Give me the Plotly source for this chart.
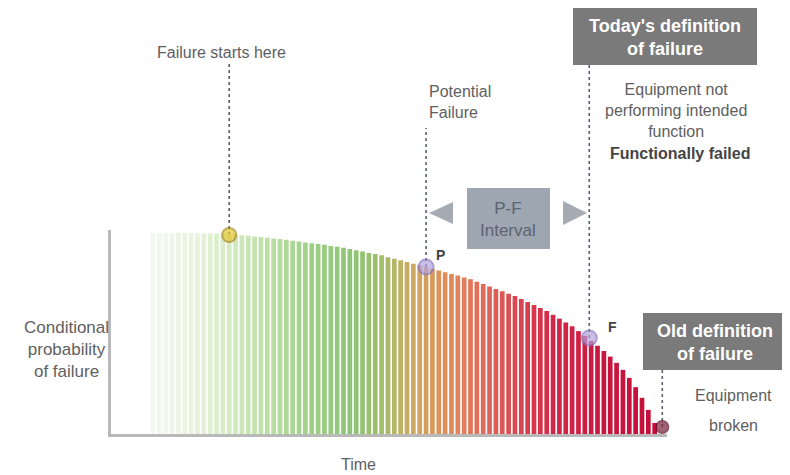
import plotly.graph_objects as go

# ---------------- data ----------------
time_steps = list(range(80))
cond_prob = [
    100.0, 100.0, 100.0, 100.0, 100.0, 100.0, 100.0, 99.9, 99.8, 99.7,
    99.7, 99.6, 99.5, 99.2, 98.9, 98.6, 98.3, 98.0, 97.7, 97.3,
    97.0, 96.6, 96.2, 95.8, 95.3, 94.9, 94.5, 94.1, 93.6, 93.2,
    92.7, 92.0, 91.4, 90.8, 90.1, 89.5, 88.9, 88.0, 87.2, 86.4,
    85.6, 84.7, 83.9, 83.1, 82.2, 81.3, 80.5, 79.6, 78.8, 77.9,
    77.0, 75.8, 74.6, 73.4, 72.2, 71.0, 69.8, 68.6, 67.2, 65.7,
    64.2, 62.7, 61.2, 59.3, 57.4, 55.5, 53.6, 51.2, 48.8, 46.3,
    43.9, 41.3, 38.5, 35.4, 31.9, 27.9, 23.3, 18.0, 12.0, 5.5,
]
event_labels = ["Failure starts here", "P", "F", "Equipment broken"]
event_time = [12.0, 43.0, 68.7, 80.2]
event_prob = [99.0, 83.1, 47.8, 3.5]

# ---------------- layout geometry ----------------
# page body has an 8px margin, so the figure is drawn 8px in from the window edge
OFF = 8
W, H = 790 - OFF, 475 - OFF
PLOT_LEFT, PLOT_TOP, PW, PH = 111, 230, 556, 204      # in window pixels
L = PLOT_LEFT - OFF
T = PLOT_TOP - OFF
R = W - L - PW
B = H - T - PH
X_RANGE = [-6.61, 80.94]
Y_RANGE = [0, 101.5]
FONT = "Liberation Sans, Arial, sans-serif"


def pxx(x):
    return (x - PLOT_LEFT) / PW


def pxy(y):
    return (PLOT_TOP + PH - y) / PH


colorscale = [
    [0.00, "#f4f9f0"], [0.08, "#e8f3df"], [0.16, "#d2eac0"], [0.24, "#b8dda0"],
    [0.32, "#9ccf84"], [0.40, "#8ec476"], [0.46, "#a6bc6a"], [0.50, "#c4b064"],
    [0.55, "#d89c5c"], [0.60, "#e0865a"], [0.66, "#e06a5a"], [0.72, "#da4a52"],
    [0.80, "#d2284a"], [0.90, "#c9163f"], [1.00, "#c2103a"],
]

fig = go.Figure()
fig.add_trace(go.Bar(
    x=time_steps, y=cond_prob,
    marker=dict(color=time_steps, colorscale=colorscale, cmin=0, cmax=79,
                line=dict(width=0)),
    hoverinfo="skip",
))

dot_fill = ["#e4c42a", "#b4a2dc", "#b4a2dc", "#7a2038"]
dot_line = ["#a88c1c", "#8a78c0", "#8a78c0", "#5a1028"]
dot_size = [14, 15, 15, 12]
fig.add_trace(go.Scatter(
    x=event_time, y=event_prob, mode="markers",
    marker=dict(color=dot_fill, size=dot_size, line=dict(color=dot_line, width=2)),
    cliponaxis=False, text=event_labels, hoverinfo="text",
))

shapes = []
# dotted leader lines (top ends in window pixels)
line_tops = [63, 128, 65, 370]
for t, p, top in zip(event_time, event_prob, line_tops):
    shapes.append(dict(type="line", xref="x", yref="paper",
                       x0=t, x1=t, y0=p / Y_RANGE[1], y1=pxy(top),
                       line=dict(color="#5a6070", width=1.6, dash="dot"), layer="below"))


def rect(x0, y0, x1, y1, color):
    return dict(type="rect", xref="paper", yref="paper",
                x0=pxx(x0), x1=pxx(x1), y0=pxy(y1), y1=pxy(y0),
                fillcolor=color, line=dict(width=0), layer="above")


shapes.append(rect(573, 7, 757, 65, "#7a7a7a"))
shapes.append(rect(643, 313, 787, 370, "#7a7a7a"))
shapes.append(rect(467, 188, 550, 249, "#9ea6b2"))


def tri(pts, color):
    path = "M " + " L ".join(f"{pxx(a):.5f},{pxy(b):.5f}" for a, b in pts) + " Z"
    return dict(type="path", xref="paper", yref="paper", path=path,
                fillcolor=color, line=dict(width=0), layer="above")


shapes.append(tri([(429, 213), (453, 202), (453, 224)], "#a6aab3"))
shapes.append(tri([(587, 213), (563, 201), (563, 225)], "#a6aab3"))

anns = []


def txt(x, y, s, size=16, color="#606060", bold=False, xanchor="center", align="center"):
    anns.append(dict(xref="paper", yref="paper", x=pxx(x), y=pxy(y), text=s,
                     showarrow=False, xanchor=xanchor, yanchor="middle", align=align,
                     font=dict(family=FONT, size=size, color=color,
                               weight="bold" if bold else "normal")))


txt(221, 52, "Failure starts here")
txt(427, 102, "Potential<br>Failure", xanchor="left", align="left")
txt(665, 37, "Today's definition<br>of failure", size=18, color="#ffffff", bold=True)
txt(676, 110, "Equipment not<br>performing intended<br>function", size=16)
txt(680, 153, "Functionally failed", size=16, color="#444444", bold=True)
txt(508, 219, "P-F<br>Interval", size=17, color="#5c6470")
txt(440, 255, "P", size=14, color="#444444", bold=True)
txt(612, 327, "F", size=14, color="#444444", bold=True)
txt(715, 342, "Old definition<br>of failure", size=18, color="#ffffff", bold=True)
txt(733, 395, "Equipment", size=16)
txt(733, 425, "broken", size=16)
txt(66, 349, "Conditional<br>probability<br>of failure", size=17)
txt(358, 464, "Time", size=16)

fig.update_layout(
    width=W, height=H,
    margin=dict(l=L, r=R, t=T, b=B),
    plot_bgcolor="white", paper_bgcolor="white",
    showlegend=False, bargap=0.26,
    shapes=shapes, annotations=anns,
    xaxis=dict(range=X_RANGE, showline=True, linecolor="#b9b9b9", linewidth=3,
               showgrid=False, zeroline=False, showticklabels=False, ticks=""),
    yaxis=dict(range=Y_RANGE, showline=True, linecolor="#b9b9b9", linewidth=3,
               showgrid=False, zeroline=False, showticklabels=False, ticks=""),
)

fig.write_html("out.html")
